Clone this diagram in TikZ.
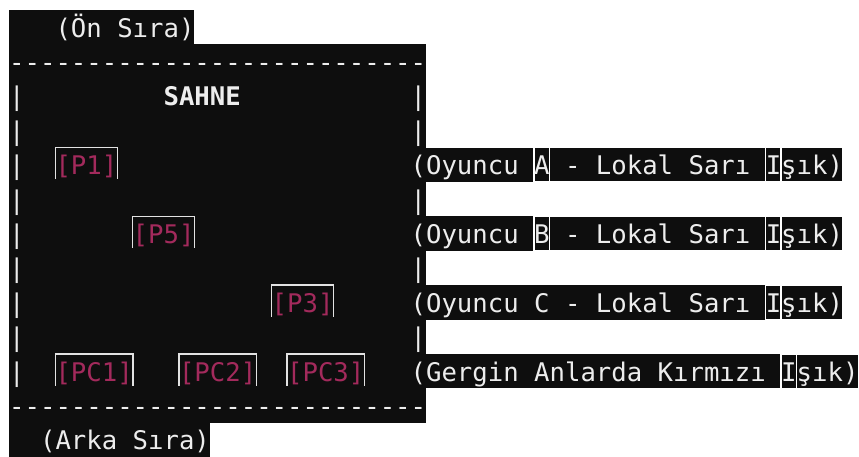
\documentclass[tikz,border=0pt]{standalone}
\usepackage{fontspec}
\setmonofont{DejaVu Sans Mono}
\definecolor{term}{HTML}{0E0E0E}
\definecolor{fg}{HTML}{EDEDED}
\definecolor{crim}{HTML}{A32A5C}
\definecolor{edgegray}{HTML}{E2E2E2}
\tikzset{
  txt/.style={anchor=base west, inner sep=0pt, text=fg,
    font=\ttfamily\fontsize{25.65}{30}\selectfont},
  tagtxt/.style={txt, text=crim, text height=27pt, text depth=4.4pt},
  hlbox/.style={fill=term, draw=white, line width=1.2pt},
  tagedge/.style={draw=edgegray, line width=1.4pt},
}
\begin{document}
\begin{tikzpicture}[x=15.44pt, y=-34.4pt]
\useasboundingbox[fill=white] (-0.5829,-0.2907) rectangle (55.052,12.994);
% terminal backgrounds
\fill[term] (0,0) rectangle (12,1);
\fill[term] (0,1) rectangle (27,12);
\fill[term] (0,12) rectangle (13,12.994);
% highlighted side texts
\fill[term] (26,4) rectangle (34,5);
\draw[hlbox] (34,4) rectangle (35,5);
\draw[hlbox] (35,4) rectangle (49,5);
\draw[hlbox] (49,4) rectangle (50,5);
\draw[hlbox] (50,4) rectangle (54,5);
\fill[term] (26,6) rectangle (34,7);
\draw[hlbox] (34,6) rectangle (35,7);
\draw[hlbox] (35,6) rectangle (49,7);
\draw[hlbox] (49,6) rectangle (50,7);
\draw[hlbox] (50,6) rectangle (54,7);
\fill[term] (26,8) rectangle (49,9);
\draw[hlbox] (49,8) rectangle (50,9);
\draw[hlbox] (50,8) rectangle (54,9);
\fill[term] (26,10) rectangle (50,11);
\draw[hlbox] (50,10) rectangle (51,11);
\draw[hlbox] (51,10) rectangle (55,11);
% row 0
\node[txt] (front) at (3,0.785) {(Ön Sıra)};
% row 1
\node[txt] (dashtop) at (0,1.785) {---------------------------};
% row 2
\node[txt] (l2) at (0,2.785) {|};
\node[txt, font=\ttfamily\bfseries\fontsize{25.65}{30}\selectfont] (stage) at (10,2.785) {SAHNE};
\node[txt] (r2) at (26,2.785) {|};
% row 3
\node[txt] (l3) at (0,3.785) {|};
\node[txt] (r3) at (26,3.785) {|};
% row 4
\node[txt] (l4) at (0,4.785) {|};
\node[tagtxt] (p1) at (3,4.785) {[P1]};
\node[txt] (la) at (26,4.785) {(Oyuncu A - Lokal Sarı Işık)};
% row 5
\node[txt] (l5) at (0,5.785) {|};
\node[txt] (r5) at (26,5.785) {|};
% row 6
\node[txt] (l6) at (0,6.785) {|};
\node[tagtxt] (p5) at (8,6.785) {[P5]};
\node[txt] (lb) at (26,6.785) {(Oyuncu B - Lokal Sarı Işık)};
% row 7
\node[txt] (l7) at (0,7.785) {|};
\node[txt] (r7) at (26,7.785) {|};
% row 8
\node[txt] (l8) at (0,8.785) {|};
\node[tagtxt] (p3) at (17,8.785) {[P3]};
\node[txt] (lc) at (26,8.785) {(Oyuncu C - Lokal Sarı Işık)};
% row 9
\node[txt] (l9) at (0,9.785) {|};
\node[txt] (r9) at (26,9.785) {|};
% row 10
\node[txt] (l10) at (0,10.785) {|};
\node[tagtxt] (pc1) at (3,10.785) {[PC1]};
\node[tagtxt] (pc2) at (11,10.785) {[PC2]};
\node[tagtxt] (pc3) at (18,10.785) {[PC3]};
\node[txt] (lred) at (26,10.785) {(Gergin Anlarda Kırmızı Işık)};
% row 11
\node[txt] (dashbot) at (0,11.785) {---------------------------};
% row 12
\node[txt] (back) at (2,12.785) {(Arka Sıra)};
% tag frames
\foreach \t in {p1,p5,p3,pc1,pc2,pc3}{
  \draw[tagedge] (\t.south west) -- (\t.north west) -- (\t.north east) -- (\t.south east);
}
\end{tikzpicture}
\end{document}
